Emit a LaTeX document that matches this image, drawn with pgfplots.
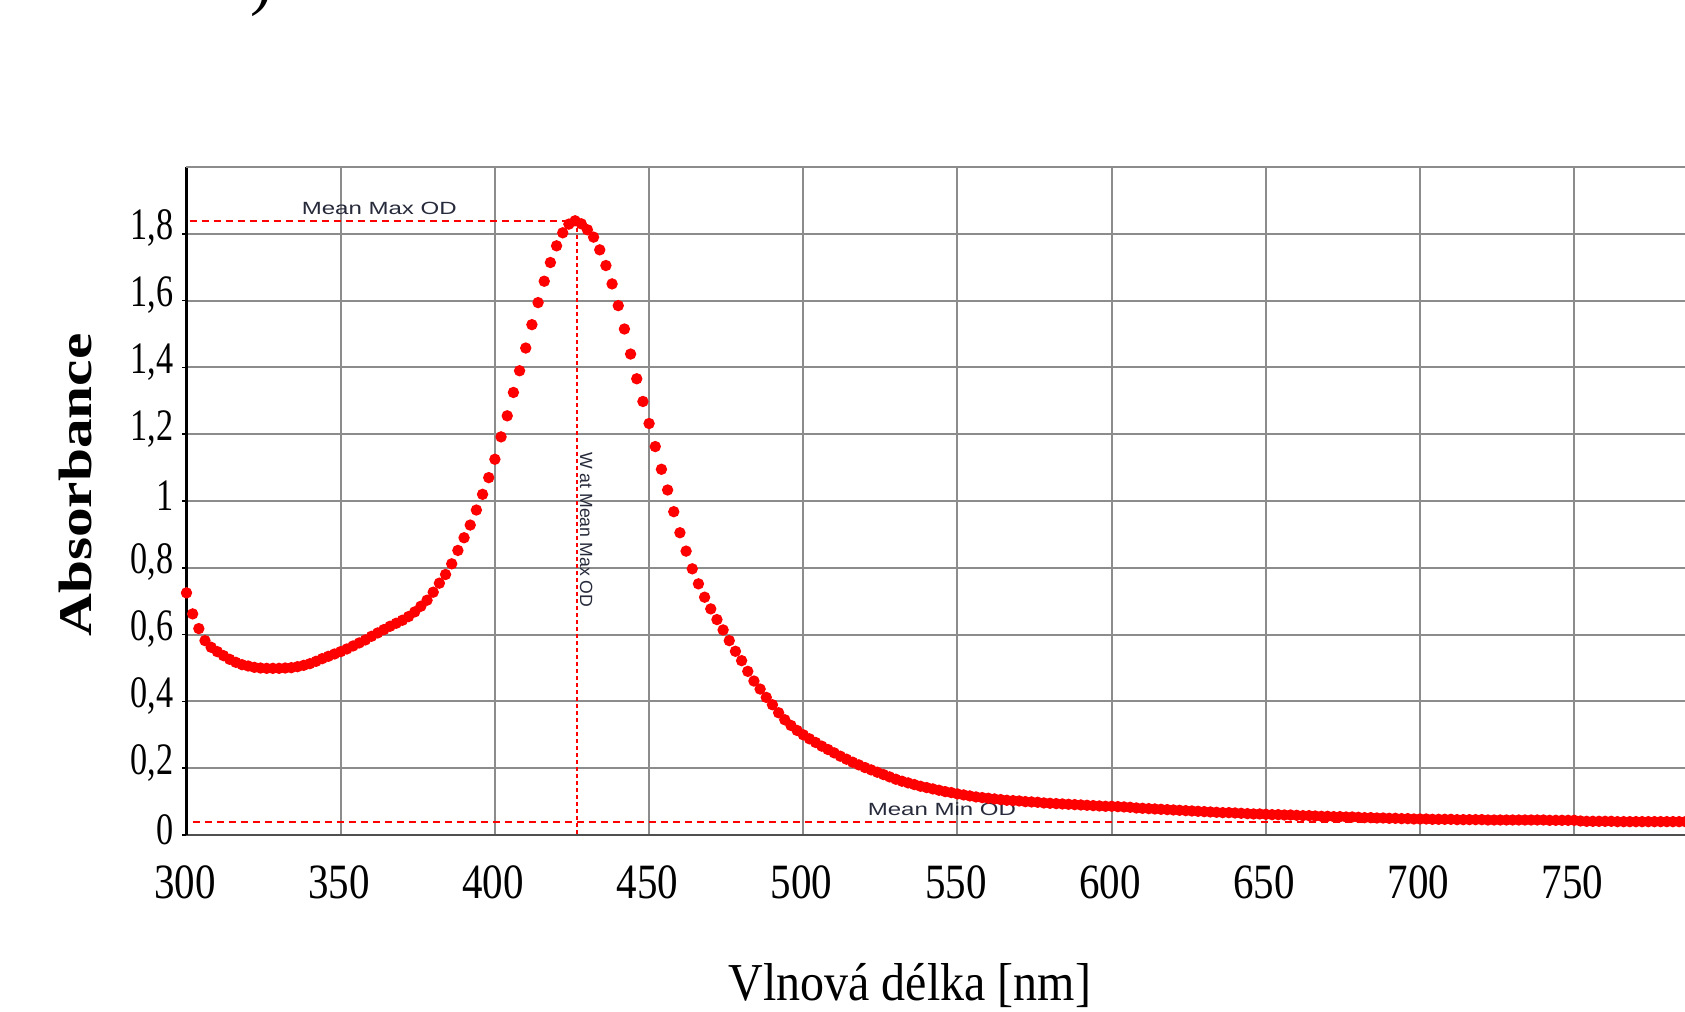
\documentclass[border=0pt]{standalone}
\usepackage{fontspec}
\usepackage{pgfplots}
\pgfplotsset{compat=1.18}
\usepackage{pgfplotstable}
\setmainfont{Liberation Serif}
\newfontfamily\tickfont{Liberation Serif}[FakeStretch=0.76]
\newfontfamily\xtickfont{Liberation Serif}[FakeStretch=0.83]
\newfontfamily\labfont{Liberation Serif}[FakeStretch=0.9]
\newfontfamily\annfont{Liberation Sans}[FakeStretch=1.36]
\newfontfamily\wfont{Liberation Sans}
\definecolor{gridgray}{HTML}{8C8C8C}
\definecolor{axisgray}{HTML}{505050}
\definecolor{anntext}{HTML}{262A3A}

% absorbance spectrum
\pgfplotstableread{
x y
300 0.725
302 0.662
304 0.618
306 0.582
308 0.562
310 0.549
312 0.537
314 0.526
316 0.517
318 0.510
320 0.506
322 0.502
324 0.500
326 0.499
328 0.499
330 0.499
332 0.500
334 0.501
336 0.504
338 0.508
340 0.513
342 0.520
344 0.528
346 0.535
348 0.542
350 0.549
352 0.557
354 0.566
356 0.575
358 0.584
360 0.595
362 0.605
364 0.615
366 0.625
368 0.634
370 0.643
372 0.654
374 0.668
376 0.685
378 0.703
380 0.727
382 0.754
384 0.780
386 0.812
388 0.852
390 0.890
392 0.928
394 0.973
396 1.020
398 1.070
400 1.125
402 1.192
404 1.255
406 1.325
408 1.390
410 1.458
412 1.528
414 1.594
416 1.658
418 1.714
420 1.764
422 1.803
424 1.829
426 1.839
428 1.830
430 1.812
432 1.790
434 1.752
436 1.705
438 1.650
440 1.585
442 1.515
444 1.440
446 1.366
448 1.298
450 1.232
452 1.163
454 1.095
456 1.033
458 0.968
460 0.905
462 0.850
464 0.797
466 0.752
468 0.712
470 0.677
472 0.645
474 0.614
476 0.582
478 0.550
480 0.522
482 0.490
484 0.461
486 0.437
488 0.412
490 0.390
492 0.366
494 0.345
496 0.328
498 0.313
500 0.300
502 0.288
504 0.277
506 0.266
508 0.256
510 0.246
512 0.236
514 0.227
516 0.218
518 0.210
520 0.202
522 0.195
524 0.188
526 0.181
528 0.174
530 0.167
532 0.161
534 0.156
536 0.151
538 0.146
540 0.142
542 0.138
544 0.134
546 0.130
548 0.127
550 0.123
552 0.120
554 0.117
556 0.114
558 0.112
560 0.110
562 0.108
564 0.106
566 0.104
568 0.103
570 0.102
572 0.100
574 0.099
576 0.098
578 0.096
580 0.095
582 0.094
584 0.093
586 0.092
588 0.091
590 0.090
592 0.089
594 0.088
596 0.087
598 0.086
600 0.086
602 0.085
604 0.084
606 0.083
608 0.081
610 0.080
612 0.079
614 0.078
616 0.077
618 0.076
620 0.075
622 0.074
624 0.073
626 0.072
628 0.071
630 0.070
632 0.069
634 0.068
636 0.067
638 0.067
640 0.066
642 0.065
644 0.064
646 0.063
648 0.063
650 0.062
652 0.061
654 0.061
656 0.060
658 0.060
660 0.059
662 0.058
664 0.058
666 0.057
668 0.056
670 0.056
672 0.055
674 0.055
676 0.054
678 0.054
680 0.053
682 0.052
684 0.052
686 0.051
688 0.051
690 0.050
692 0.050
694 0.049
696 0.049
698 0.048
700 0.048
702 0.048
704 0.047
706 0.047
708 0.047
710 0.047
712 0.046
714 0.046
716 0.046
718 0.046
720 0.046
722 0.045
724 0.045
726 0.045
728 0.045
730 0.045
732 0.045
734 0.045
736 0.045
738 0.045
740 0.045
742 0.044
744 0.044
746 0.044
748 0.044
750 0.044
752 0.042
754 0.041
756 0.041
758 0.041
760 0.041
762 0.041
764 0.040
766 0.040
768 0.040
770 0.040
772 0.040
774 0.040
776 0.040
778 0.040
780 0.040
782 0.040
784 0.040
786 0.040
788 0.040
}\spectrum

\begin{document}
\begin{tikzpicture}
\begin{axis}[
    scale only axis,
    width=462.6pt, height=200.4pt,
    xmin=300, xmax=800, ymin=0, ymax=2,
    clip=false,
    axis x line*=bottom, axis y line*=left,
    x axis line style={-, draw=axisgray, line width=0.8pt},
    y axis line style={-, draw=black, line width=0.9pt},
    xtick={300,350,...,750},
    ytick={0,0.2,...,1.81},
    extra y ticks={2},
    extra y tick labels={},
    extra y tick style={major tick length=0pt},
    grid=major,
    major grid style={draw=gridgray, line width=0.6pt},
    tick align=outside,
    major tick length=1.3pt,
    x tick style={draw=none},
    y tick style={black, line width=0.5pt},
    /pgf/number format/assume math mode=true,
    /pgf/number format/.cd, fixed, use comma, precision=1, 1000 sep={},
    /pgfplots/.cd,
    xticklabel style={font=\xtickfont\fontsize{14.8}{15}\selectfont, inner sep=0pt, anchor=north, xshift=-0.5pt, yshift=-7.8pt},
    yticklabel style={font=\tickfont\fontsize{13.5}{14}\selectfont, inner sep=0pt, anchor=east, xshift=-2.4pt, yshift=1.6pt},
    xlabel={Vlnová délka [nm]},
    xlabel style={font=\labfont\fontsize{16}{18}\selectfont, at={(axis description cs:0.469,0)}, anchor=base, yshift=-49.5pt, inner sep=0pt},
    ylabel={\scalebox{1}[0.79]{\bfseries Absorbance}},
    ylabel style={font=\fontsize{17.8}{20}\selectfont, at={(axis description cs:-0.0717,0.524)}, anchor=center, inner sep=0pt},
]
\addplot[only marks, mark=*, mark size=1.5pt, color=red] table[x=x, y=y] {\spectrum};

% Mean Max OD / Mean Min OD guides
\addplot[red, line width=0.55pt, dash pattern=on 2.1pt off 1.5pt] coordinates {(301,1.838) (426.5,1.838)};
\addplot[red, line width=0.55pt, dash pattern=on 1.3pt off 0.8pt] coordinates {(426.5,1.838) (426.5,0)};
\addplot[red, line width=0.55pt, dash pattern=on 2.1pt off 1.5pt] coordinates {(302,0.040) (800,0.040)};

\node[anchor=base, inner sep=0pt, text=anntext, font=\annfont\fontsize{5.3}{6}\selectfont] at (axis cs:362.5,1.858) {Mean Max OD};
\node[anchor=base west, inner sep=0pt, text=anntext, font=\annfont\fontsize{5.3}{6}\selectfont] at (axis cs:520.7,0.059) {Mean Min OD};
\node[anchor=base west, rotate=-90, inner sep=0pt, text=anntext, font=\wfont\fontsize{5.3}{6}\selectfont] at (axis cs:427.6,1.148) {W at Mean Max OD};

% remains of a panel letter cut by the top edge
\node[anchor=south, inner sep=0pt, font=\fontsize{20}{22}\selectfont] at (axis cs:324.5,2.449) {)};

\coordinate (bl) at (axis cs:300,0);
\coordinate (tr) at (axis cs:785.9,2);
\end{axis}
\pgfresetboundingbox
\path[use as bounding box] ([xshift=-55.95pt,yshift=-52.8pt]bl) rectangle ([yshift=50.1pt]tr);
\end{tikzpicture}
\end{document}
